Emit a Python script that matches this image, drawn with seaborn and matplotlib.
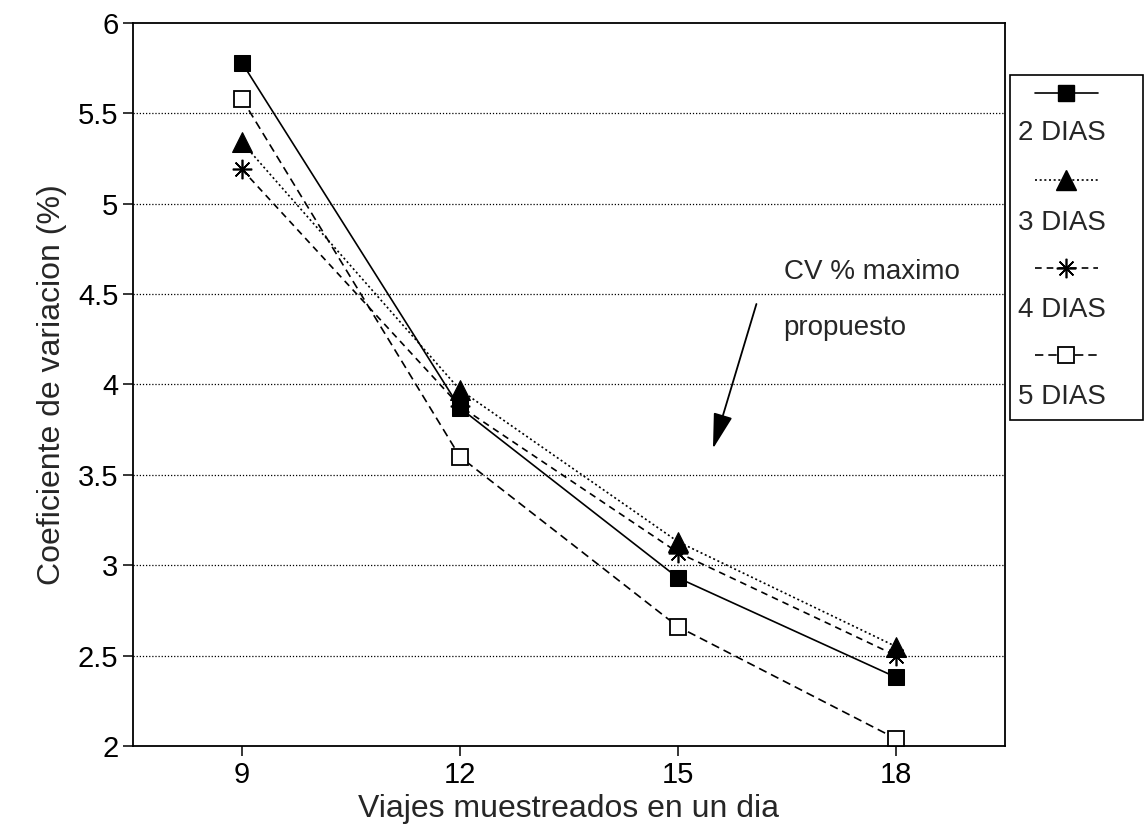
import matplotlib
matplotlib.use("Agg")
import matplotlib.pyplot as plt
import seaborn as sns
import pandas as pd
from matplotlib.lines import Line2D
from matplotlib.patches import Rectangle
from matplotlib.ticker import FormatStrFormatter

viajes = [9, 12, 15, 18]
dias_2 = [5.78, 3.87, 2.93, 2.38]
dias_3 = [5.34, 3.97, 3.13, 2.55]
dias_4 = [5.19, 3.88, 3.07, 2.50]
dias_5 = [5.58, 3.60, 2.66, 2.04]
series_labels = ["2 DIAS", "3 DIAS", "4 DIAS", "5 DIAS"]
y_ticks = [2, 2.5, 3, 3.5, 4, 4.5, 5, 5.5, 6]

sns.set_style("ticks")
plt.rcParams["font.family"] = ["Liberation Sans", "DejaVu Sans"]

fig = plt.figure(figsize=(11.46, 8.36), dpi=100)
ax = fig.add_axes([0.116, 0.1077, 0.761, 0.8648])

styles = [
    dict(linestyle="-", marker="s", markersize=12, markerfacecolor="black", markeredgecolor="black"),
    dict(linestyle=(0, (1.2, 1.6)), marker="^", markersize=15, markerfacecolor="black", markeredgecolor="black"),
    dict(linestyle=(0, (4, 3)), marker=(8, 2, 0), markersize=14, markerfacecolor="black", markeredgecolor="black", markeredgewidth=1.2),
    dict(linestyle=(0, (5, 3)), marker="s", markersize=11, markerfacecolor="white", markeredgecolor="black", markeredgewidth=1.3),
]
all_series = [dias_2, dias_3, dias_4, dias_5]

for vals, lab, st in zip(all_series, series_labels, styles):
    df = pd.DataFrame({"x": viajes, "y": vals})
    sns.lineplot(data=df, x="x", y="y", ax=ax, color="black", linewidth=1.2, **st)

ax.set_xlim(7.5, 19.5)
ax.set_ylim(2, 6)
ax.set_xticks(viajes)
ax.set_yticks(y_ticks)
ax.yaxis.set_major_formatter(FormatStrFormatter("%g"))
for yv in y_ticks[1:-1]:
    ax.axhline(yv, color="black", linestyle=(0, (1, 1.5)), linewidth=0.9, zorder=0)
for s in ax.spines.values():
    s.set_linewidth(1.3)
    s.set_color("black")
    s.set_visible(True)
ax.tick_params(axis="both", labelsize=21, length=7, width=1.1, colors="black", direction="out")
ax.set_xlabel("Viajes muestreados en un dia", fontsize=23, labelpad=4)
ax.set_ylabel("Coeficiente de variacion (%)", fontsize=23, labelpad=8)

ax.text(17.67, 4.62, "CV % maximo", fontsize=20, ha="center", va="center")
ax.text(17.30, 4.31, "propuesto", fontsize=20, ha="center", va="center")
ax.annotate("", xy=(15.47, 3.63), xytext=(16.09, 4.46),
            arrowprops=dict(arrowstyle="-|>,head_length=2.2,head_width=0.6", color="black", lw=1.3))

# legend drawn manually in figure pixels
W, H = 1146, 836
def fx(px):
    return px / W
def fy(py):
    return 1 - py / H

fig.patches.append(Rectangle((fx(1010), fy(420)), fx(1143) - fx(1010), fy(75) - fy(420),
                             transform=fig.transFigure, fill=False, edgecolor="black", linewidth=1.2))
handle_y = [93, 180, 268, 355]
text_y = [133, 223, 310, 397]
for st, lab, hy, ty in zip(styles, series_labels, handle_y, text_y):
    fig.lines.append(Line2D([fx(1035), fx(1098)], [fy(hy), fy(hy)], transform=fig.transFigure,
                            color="black", linewidth=1.2, linestyle=st["linestyle"]))
    fig.lines.append(Line2D([fx(1066)], [fy(hy)], transform=fig.transFigure, color="black", linestyle="none",
                            **{k: v for k, v in st.items() if k != "linestyle"}))
    fig.text(fx(1018), fy(ty), lab, fontsize=20, ha="left", va="center")

fig.savefig("out.png", dpi=100, facecolor="white")
